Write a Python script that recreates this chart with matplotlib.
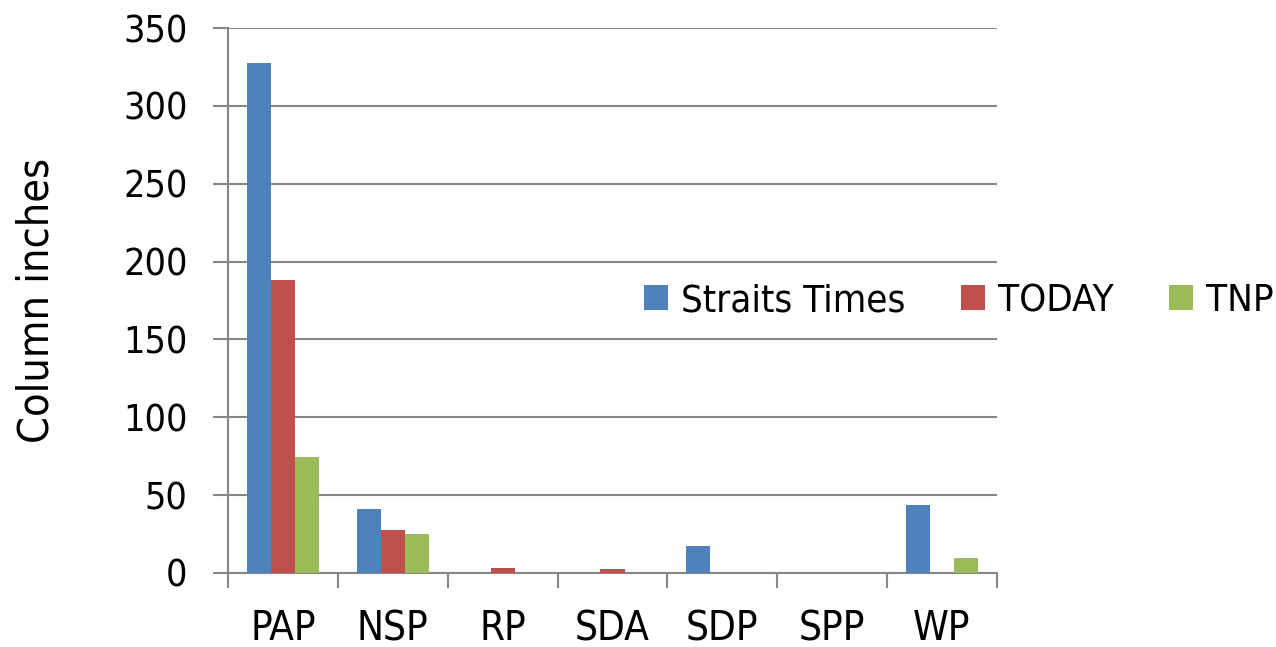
import numpy as np
import matplotlib
matplotlib.use('Agg')
import matplotlib.pyplot as plt

plt.rcParams['font.family'] = ['DejaVu Sans']
plt.rcParams['font.stretch'] = 'condensed'

categories = ['PAP', 'NSP', 'RP', 'SDA', 'SDP', 'SPP', 'WP']
straits_times = [327.3, 41.4, 0, 0, 17.1, 0, 43.5]
today = [188.4, 27.4, 3.5, 2.8, 0, 0, 0]
tnp = [74.5, 25.3, 0, 0, 0, 0, 9.4]

series = [('Straits Times', straits_times, '#4F81BD'),
          ('TODAY', today, '#C0504D'),
          ('TNP', tnp, '#9BBB59')]

fig = plt.figure(figsize=(12.76, 6.47), dpi=100)
ax = fig.add_axes([0.1787, 0.1144, 0.6026, 0.8423])

x = np.arange(len(categories))
width = 0.22
for i, (name, vals, color) in enumerate(series):
    ax.bar(x + (i - 1) * width, vals, width, color=color, label=name, zorder=3,
           edgecolor='none')

grid_color = '#868686'
ax.set_ylim(0, 350)
ax.set_xlim(-0.5, len(categories) - 0.5)
ax.set_yticks(np.arange(0, 351, 50))
ax.yaxis.grid(True, color=grid_color, linewidth=1.5, zorder=0)
for s in ['top', 'right']:
    ax.spines[s].set_visible(False)
for s in ['left', 'bottom']:
    ax.spines[s].set_color(grid_color)
    ax.spines[s].set_linewidth(1.5)

ax.set_xticks(x)
ax.set_xticklabels(categories)
ax.set_xticks(np.arange(-0.5, len(categories), 1), minor=True)
ax.tick_params(axis='x', which='major', length=0, pad=26, labelsize=29)
ax.tick_params(axis='x', which='minor', length=11, width=1.5, color=grid_color)
ax.tick_params(axis='y', length=11, width=1.5, color=grid_color, labelsize=27, pad=18)

ax.set_ylabel('Column inches', fontsize=31, labelpad=47)

fig.legend(loc='center left', bbox_to_anchor=(0.505, 1 - 301 / 647), ncol=3,
           frameon=False, fontsize=27.5, handlelength=0.62, handleheight=0.62,
           handletextpad=0.35, columnspacing=1.45, borderaxespad=0, borderpad=0)

fig.savefig('out.png', dpi=100)
